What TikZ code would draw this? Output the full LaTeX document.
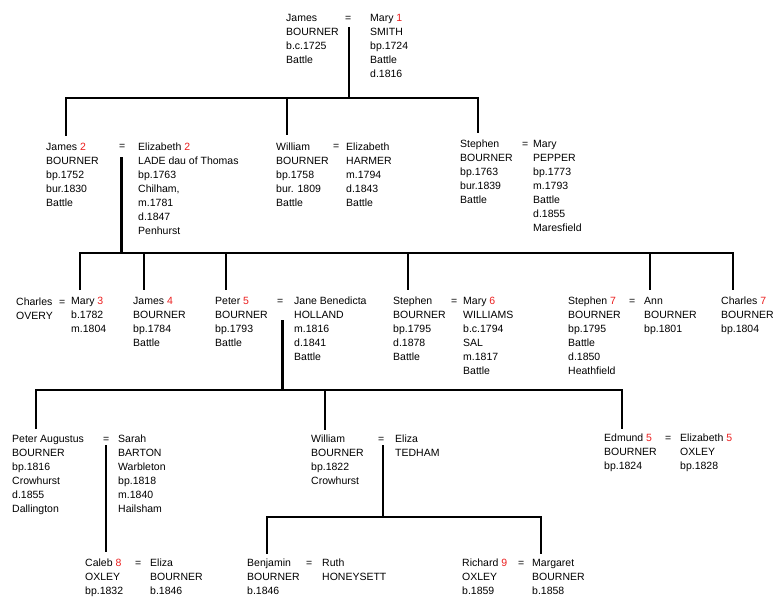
\documentclass[tikz,border=0pt]{standalone}
\usepackage{fontspec}
\setmainfont{Liberation Sans}
\definecolor{numred}{RGB}{235,30,30}
\newcommand{\rn}[1]{\textcolor{numred}{#1}}
\begin{document}
\begin{tikzpicture}[x=1pt,y=-1pt,
  person/.style={anchor=north west, inner sep=0pt, align=left, font=\fontsize{10.5}{14}\selectfont},
  eqsign/.style={anchor=north west, inner sep=0pt, font=\fontsize{10.5}{14}\selectfont},
  tree/.style={line width=2.8pt},
]
\useasboundingbox (0,0) rectangle (776,607);

% Generation 1
\node[person] (n1a) at (286,12) {\strut James\\BOURNER\\b.c.1725\\Battle};
\node[eqsign] (e1) at (345,12) {\strut =};
\node[person] (n1b) at (370,12) {\strut Mary \rn{1}\\SMITH\\bp.1724\\Battle\\d.1816};

% Generation 2
\node[person] (n2a) at (46,140) {\strut James \rn{2}\\BOURNER\\bp.1752\\bur.1830\\Battle};
\node[eqsign] (e2a) at (119,140) {\strut =};
\node[person] (n2b) at (138,140) {\strut Elizabeth \rn{2}\\LADE dau of Thomas\\bp.1763\\Chilham,\\m.1781\\d.1847\\Penhurst};
\node[person] (n2c) at (276,140) {\strut William\\BOURNER\\bp.1758\\bur. 1809\\Battle};
\node[eqsign] (e2b) at (333,140) {\strut =};
\node[person] (n2d) at (346,140) {\strut Elizabeth\\HARMER\\m.1794\\d.1843\\Battle};
\node[person] (n2e) at (460,137) {\strut Stephen\\BOURNER\\bp.1763\\bur.1839\\Battle};
\node[eqsign] (e2c) at (522,137) {\strut =};
\node[person] (n2f) at (533,137) {\strut Mary\\PEPPER\\bp.1773\\m.1793\\Battle\\d.1855\\Maresfield};

% Generation 3
\node[person] (n3a) at (16,295) {\strut Charles\\OVERY};
\node[eqsign] (e3a) at (59,295) {\strut =};
\node[person] (n3b) at (71,294) {\strut Mary \rn{3}\\b.1782\\m.1804};
\node[person] (n3c) at (133,294) {\strut James \rn{4}\\BOURNER\\bp.1784\\Battle};
\node[person] (n3d) at (215,294) {\strut Peter \rn{5}\\BOURNER\\bp.1793\\Battle};
\node[eqsign] (e3b) at (277,294) {\strut =};
\node[person] (n3e) at (294,294) {\strut Jane Benedicta\\HOLLAND\\m.1816\\d.1841\\Battle};
\node[person] (n3f) at (393,294) {\strut Stephen\\BOURNER\\bp.1795\\d.1878\\Battle};
\node[eqsign] (e3c) at (451,294) {\strut =};
\node[person] (n3g) at (463,294) {\strut Mary \rn{6}\\WILLIAMS\\b.c.1794\\SAL\\m.1817\\Battle};
\node[person] (n3h) at (568,294) {\strut Stephen \rn{7}\\BOURNER\\bp.1795\\Battle\\d.1850\\Heathfield};
\node[eqsign] (e3d) at (629,294) {\strut =};
\node[person] (n3i) at (644,294) {\strut Ann\\BOURNER\\bp.1801};
\node[person] (n3j) at (721,294) {\strut Charles \rn{7}\\BOURNER\\bp.1804};

% Generation 4
\node[person] (n4a) at (12,432) {\strut Peter Augustus\\BOURNER\\bp.1816\\Crowhurst\\d.1855\\Dallington};
\node[eqsign] (e4a) at (103,432) {\strut =};
\node[person] (n4b) at (118,432) {\strut Sarah\\BARTON\\Warbleton\\bp.1818\\m.1840\\Hailsham};
\node[person] (n4c) at (311,432) {\strut William\\BOURNER\\bp.1822\\Crowhurst};
\node[eqsign] (e4b) at (378,432) {\strut =};
\node[person] (n4d) at (395,432) {\strut Eliza\\TEDHAM};
\node[person] (n4e) at (604,431) {\strut Edmund \rn{5}\\BOURNER\\bp.1824};
\node[eqsign] (e4c) at (665,431) {\strut =};
\node[person] (n4f) at (680,431) {\strut Elizabeth \rn{5}\\OXLEY\\bp.1828};

% Generation 5
\node[person] (n5a) at (85,556) {\strut Caleb \rn{8}\\OXLEY\\bp.1832};
\node[eqsign] (e5a) at (135,556) {\strut =};
\node[person] (n5b) at (150,556) {\strut Eliza\\BOURNER\\b.1846};
\node[person] (n5c) at (247,556) {\strut Benjamin\\BOURNER\\b.1846};
\node[eqsign] (e5b) at (306,556) {\strut =};
\node[person] (n5d) at (322,556) {\strut Ruth\\HONEYSETT};
\node[person] (n5e) at (462,556) {\strut Richard \rn{9}\\OXLEY\\b.1859};
\node[eqsign] (e5c) at (518,556) {\strut =};
\node[person] (n5f) at (532,556) {\strut Margaret\\BOURNER\\b.1858};

% Connector coordinates
\coordinate (m1) at (349,27);
\coordinate (b1m) at (349,98);
\coordinate (b1l) at (66,98);
\coordinate (b1r) at (478,98);
\coordinate (s1a) at (66,136);
\coordinate (s1b) at (287,98);
\coordinate (s1bb) at (287,135);
\coordinate (s1c) at (478,133);

\coordinate (m2) at (121.7,157);
\coordinate (b2m) at (121.7,253);
\coordinate (b2l) at (80,253);
\coordinate (b2r) at (733,253);
\coordinate (s2a) at (80,290);
\coordinate (s2bt) at (144,253);  \coordinate (s2b) at (144,290);
\coordinate (s2ct) at (226,253);  \coordinate (s2c) at (226,290);
\coordinate (s2dt) at (408,253);  \coordinate (s2d) at (408,290);
\coordinate (s2et) at (650,253);  \coordinate (s2e) at (650,290);
\coordinate (s2f) at (733,290);

\coordinate (m3) at (282.7,320);
\coordinate (b3m) at (282.7,390);
\coordinate (b3l) at (36,390);
\coordinate (b3r) at (622,390);
\coordinate (s3a) at (36,429);
\coordinate (s3bt) at (325,390); \coordinate (s3b) at (325,430);
\coordinate (s3c) at (622,429);

\coordinate (m4a) at (106,445);
\coordinate (s4a) at (106,552);
\coordinate (m4b) at (383,445);
\coordinate (b4m) at (383,517);
\coordinate (b4l) at (267,517);
\coordinate (b4r) at (541,517);
\coordinate (s4b) at (267,554);
\coordinate (s4c) at (541,554);

% Connectors
\draw[tree] (m1) -- (b1m);
\draw[tree] (s1a) -- (b1l) -- (b1r) -- (s1c);
\draw[tree] (s1b) -- (s1bb);

\draw[tree] (m2) -- (b2m);
\draw[tree] (s2a) -- (b2l) -- (b2r) -- (s2f);
\draw[tree] (s2bt) -- (s2b);
\draw[tree] (s2ct) -- (s2c);
\draw[tree] (s2dt) -- (s2d);
\draw[tree] (s2et) -- (s2e);

\draw[tree] (m3) -- (b3m);
\draw[tree] (s3a) -- (b3l) -- (b3r) -- (s3c);
\draw[tree] (s3bt) -- (s3b);

\draw[tree] (m4a) -- (s4a);
\draw[tree] (m4b) -- (b4m);
\draw[tree] (s4b) -- (b4l) -- (b4r) -- (s4c);
\end{tikzpicture}
\end{document}
